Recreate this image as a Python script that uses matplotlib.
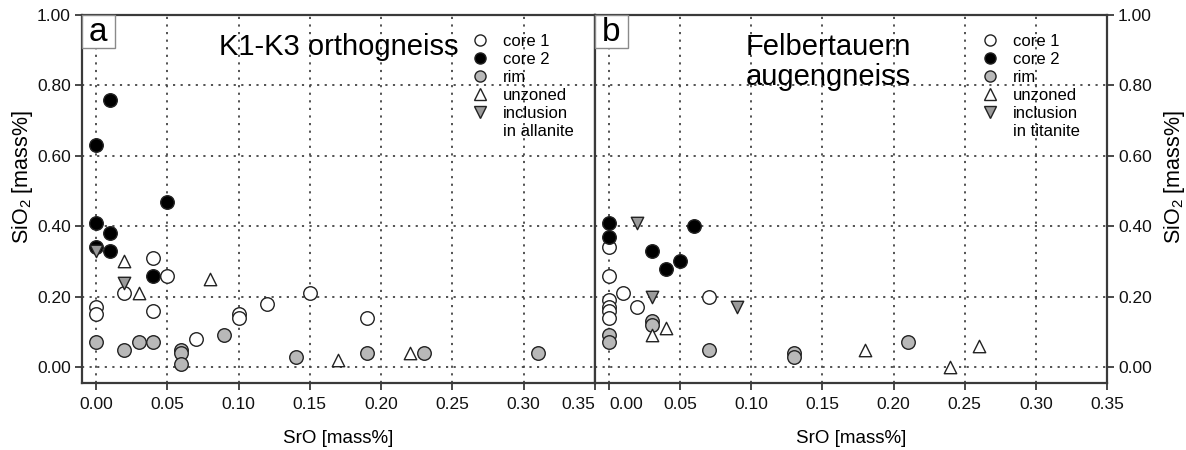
"""SiO2 vs SrO scatter for two gneiss bodies (panels a and b)."""

import matplotlib
matplotlib.use("Agg")
import matplotlib.pyplot as plt
from matplotlib.lines import Line2D
from matplotlib.patches import Rectangle

plt.rcParams["font.family"] = ["Liberation Sans", "DejaVu Sans"]
plt.rcParams["mathtext.fontset"] = "custom"
plt.rcParams["mathtext.rm"] = "Liberation Sans"
plt.rcParams["mathtext.it"] = "Liberation Sans"

# panel a: K1-K3 orthogneiss
core1_a_x = [0.00, 0.00, 0.02, 0.04, 0.04, 0.05, 0.07, 0.10, 0.10, 0.12, 0.15, 0.19]
core1_a_y = [0.17, 0.15, 0.21, 0.31, 0.16, 0.26, 0.08, 0.15, 0.14, 0.18, 0.21, 0.14]
core2_a_x = [0.00, 0.00, 0.00, 0.01, 0.01, 0.01, 0.04, 0.05]
core2_a_y = [0.63, 0.41, 0.34, 0.76, 0.38, 0.33, 0.26, 0.47]
rim_a_x = [0.00, 0.02, 0.03, 0.04, 0.06, 0.06, 0.06, 0.09, 0.14, 0.19, 0.23, 0.31]
rim_a_y = [0.07, 0.05, 0.07, 0.07, 0.05, 0.04, 0.01, 0.09, 0.03, 0.04, 0.04, 0.04]
unzoned_a_x = [0.02, 0.03, 0.08, 0.17, 0.22]
unzoned_a_y = [0.30, 0.21, 0.25, 0.02, 0.04]
incl_a_x = [0.00, 0.02]
incl_a_y = [0.33, 0.24]

# panel b: Felbertauern augengneiss
core1_b_x = [0.00, 0.00, 0.00, 0.00, 0.00, 0.00, 0.01, 0.02, 0.07]
core1_b_y = [0.34, 0.26, 0.19, 0.17, 0.16, 0.14, 0.21, 0.17, 0.20]
core2_b_x = [0.00, 0.00, 0.03, 0.04, 0.05, 0.06]
core2_b_y = [0.41, 0.37, 0.33, 0.28, 0.30, 0.40]
rim_b_x = [0.00, 0.00, 0.03, 0.03, 0.07, 0.13, 0.13, 0.21]
rim_b_y = [0.09, 0.07, 0.13, 0.12, 0.05, 0.04, 0.03, 0.07]
unzoned_b_x = [0.03, 0.04, 0.18, 0.24, 0.26]
unzoned_b_y = [0.09, 0.11, 0.05, 0.00, 0.06]
incl_b_x = [0.02, 0.03, 0.09]
incl_b_y = [0.41, 0.20, 0.17]

x_ticks = [0.00, 0.05, 0.10, 0.15, 0.20, 0.25, 0.30, 0.35]
y_ticks = [0.00, 0.20, 0.40, 0.60, 0.80, 1.00]

AX_COLOR = "#3a3a3a"
RIM_GRAY = "#b8b8b8"
INCL_GRAY = "#9a9a9a"

STYLES = {
    "core 1": dict(marker="o", s=95, facecolor="white"),
    "core 2": dict(marker="o", s=95, facecolor="black"),
    "rim": dict(marker="o", s=95, facecolor=RIM_GRAY),
    "unzoned": dict(marker="^", s=80, facecolor="white"),
    "inclusion": dict(marker="v", s=80, facecolor=INCL_GRAY),
}


def _draw_panel(ax, series, letter, title, title_xy, host_mineral, legend_anchor):
    for name, (xs, ys) in series.items():
        st = STYLES[name]
        ax.scatter(xs, ys, marker=st["marker"], s=st["s"], facecolor=st["facecolor"],
                   edgecolor="#222222", linewidth=1.0, zorder=3)

    ax.set_xlim(-0.0098, 0.35)
    ax.set_ylim(-0.045, 1.0)
    ax.set_xticks(x_ticks)
    ax.set_xticklabels([f"{v:.2f}" for v in x_ticks])
    ax.set_yticks(y_ticks)
    ax.set_yticklabels([f"{v:.2f}" for v in y_ticks])
    ax.grid(True, linestyle=(0, (1.2, 3.0)), color="#444444", linewidth=1.3, zorder=0)
    ax.set_axisbelow(True)
    for sp in ax.spines.values():
        sp.set_color(AX_COLOR)
        sp.set_linewidth(1.6)
    ax.tick_params(direction="out", length=5, width=1.3, color=AX_COLOR,
                   labelsize=12.5, labelcolor="#111111")
    ax.tick_params(axis="x", pad=5)
    ax.tick_params(axis="y", pad=3)
    ax.set_xlabel("SrO [mass%]", fontsize=13.5, labelpad=13)

    # panel letter box
    ax.add_patch(Rectangle((0, 1 - 0.0897), 0.064, 0.0897, transform=ax.transAxes,
                           facecolor="white", edgecolor="#8a8a8a", linewidth=1.0,
                           zorder=4, clip_on=False))
    ax.text(0.032, 1 - 0.047, letter, transform=ax.transAxes, ha="center",
            va="center", fontsize=24, zorder=5)

    ax.text(title_xy[0], title_xy[1], title, transform=ax.transAxes, ha="center",
            va="center", fontsize=21, linespacing=1.1, zorder=5)

    handles = []
    for name, st in STYLES.items():
        handles.append(Line2D([], [], linestyle="none", marker=st["marker"],
                              markersize=8, markerfacecolor=st["facecolor"],
                              markeredgecolor="#222222", markeredgewidth=1.0))
    handles.append(Line2D([], [], linestyle="none", marker=None))
    labels = list(STYLES.keys()) + [f"in {host_mineral}"]
    ax.legend(handles, labels, loc="upper left", bbox_to_anchor=legend_anchor,
              frameon=False, fontsize=12, labelspacing=0.18, handlelength=1.0,
              handletextpad=0.9, borderpad=0, borderaxespad=0)


fig = plt.figure(figsize=(11.86, 4.5), dpi=100)
ax_a = fig.add_axes([0.0691, 0.1489, 0.4326, 0.8178])
ax_b = fig.add_axes([0.5017, 0.1489, 0.4317, 0.8178])

_draw_panel(
    ax_a,
    {"core 1": (core1_a_x, core1_a_y), "core 2": (core2_a_x, core2_a_y),
     "rim": (rim_a_x, rim_a_y), "unzoned": (unzoned_a_x, unzoned_a_y),
     "inclusion": (incl_a_x, incl_a_y)},
    "a", "K1-K3 orthogneiss", (0.50, 0.912), "allanite", (0.759, 0.948),
)
_draw_panel(
    ax_b,
    {"core 1": (core1_b_x, core1_b_y), "core 2": (core2_b_x, core2_b_y),
     "rim": (rim_b_x, rim_b_y), "unzoned": (unzoned_b_x, unzoned_b_y),
     "inclusion": (incl_b_x, incl_b_y)},
    "b", "Felbertauern\naugengneiss", (0.455, 0.872), "titanite", (0.755, 0.948),
)

# end labels where the two panels meet
ax_a.get_xticklabels()[-1].set_horizontalalignment("right")
ax_b.get_xticklabels()[0].set_horizontalalignment("left")

ax_a.set_ylabel("SiO$_2$ [mass%]", fontsize=15.5)
ax_a.yaxis.set_label_coords(-0.092, 0.56)
ax_b.yaxis.tick_right()
ax_b.yaxis.set_label_position("right")
ax_b.set_ylabel("SiO$_2$ [mass%]", fontsize=15.5)
ax_b.yaxis.set_label_coords(1.107, 0.56)
ax_b.tick_params(axis="y", left=False, right=True)

fig.savefig("out.png", dpi=100)
